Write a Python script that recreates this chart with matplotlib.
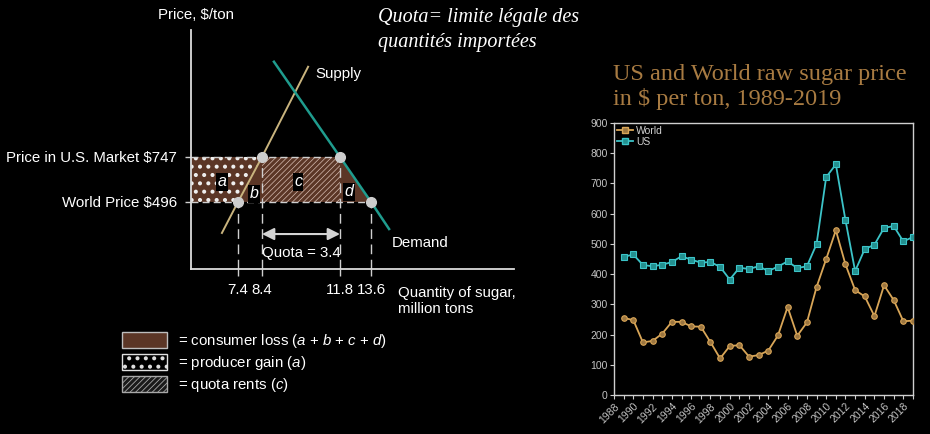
import numpy as np
import matplotlib
matplotlib.use("Agg")
import matplotlib.pyplot as plt
from matplotlib.patches import Rectangle
from matplotlib.lines import Line2D

plt.rcParams['font.family'] = ['Liberation Sans', 'DejaVu Sans']
plt.rcParams['mathtext.fontset'] = 'custom'
plt.rcParams['mathtext.rm'] = 'Liberation Sans'
plt.rcParams['mathtext.it'] = 'Liberation Sans:italic'

# ---- right chart: raw sugar prices, $ per ton
years = list(range(1989, 2020))
world = [255, 248, 174, 179, 203, 242, 242, 227, 226, 175, 121, 162, 165, 127, 132, 147,
         197, 291, 196, 240, 357, 450, 545, 432, 347, 326, 261, 363, 314, 244, 246]
us = [457, 465, 430, 426, 431, 440, 459, 448, 438, 440, 424, 382, 421, 417, 426, 410,
      425, 442, 420, 426, 499, 721, 763, 578, 410, 483, 497, 553, 559, 508, 523]
year_ticks = list(range(1988, 2020))

# ---- left diagram: import quota
q_marks = [7.4, 8.4, 11.8, 13.6]
q_labels = ['7.4', '8.4', '11.8', '13.6']
p_us = 747
p_world = 496
p_labels = ['World Price $496', 'Price in U.S. Market $747']
quota = 3.4
supply_q = [6.73, 7.4, 8.4, 10.41]
supply_p = [323, 496, 747, 1250]
demand_q = [8.92, 11.8, 13.6, 14.65]
demand_p = [1278, 747, 496, 345]

W, H = 930, 434
BROWN = '#5b3626'
GRAY = '#cfcfcf'
FS = 10.8


def fx(x):
    return x / W


def fy(y):
    return 1 - y / H


# textbook figure is not drawn to scale -> piecewise-linear quantity axis
q_knots = [0.0, 7.4, 8.4, 11.8, 13.6, 30.0]
x_knots = [60.4, 238, 262, 340, 371, 653.4]


def q_fwd(q):
    return np.interp(q, q_knots, x_knots)


def q_inv(x):
    return np.interp(x, x_knots, q_knots)


def hatch_lw(patch, lw):
    if hasattr(patch, 'set_hatch_linewidth'):
        patch.set_hatch_linewidth(lw)


fig = plt.figure(figsize=(9.3, 4.34), dpi=100, facecolor='black')

# ================= quota diagram =================
ax = fig.add_axes([fx(191), fy(269), fx(514 - 191), (269 - 30) / H])
ax.set_facecolor('black')
ax.set_xscale('function', functions=(q_fwd, q_inv))
x0, x1 = float(q_inv(191)), float(q_inv(514))
ax.set_xlim(x0, x1)
ax.set_ylim(122, 1455)

# areas
with plt.rc_context({'hatch.linewidth': 1.7}):
    pa = ax.fill([x0, q_marks[0], q_marks[1], x0], [p_world, p_world, p_us, p_us],
                 facecolor=BROWN, edgecolor='#f0f0f0', hatch='..', lw=0, zorder=1)[0]
    hatch_lw(pa, 1.7)
ax.fill([q_marks[0], q_marks[1], q_marks[1]], [p_world, p_world, p_us],
        facecolor=BROWN, lw=0, zorder=1)
with plt.rc_context({'hatch.linewidth': 0.5}):
    pc = ax.fill([q_marks[1], q_marks[2], q_marks[2], q_marks[1]], [p_world, p_world, p_us, p_us],
                 facecolor=BROWN, edgecolor='#d6bcb2', hatch='//////', lw=0, zorder=1)[0]
    hatch_lw(pc, 0.5)
ax.fill([q_marks[2], q_marks[3], q_marks[2]], [p_world, p_world, p_us],
        facecolor=BROWN, lw=0, zorder=1)

dash = (0, (5, 3))
ax.hlines(p_us, x0, q_marks[2], colors=GRAY, lw=1, linestyles=[dash], zorder=2)
ax.hlines(p_world, x0, q_marks[3], colors=GRAY, lw=1, linestyles=[dash], zorder=2)
ax.vlines([q_marks[0], q_marks[3]], 122, p_world, colors=GRAY, lw=1, linestyles=[(0, (7, 4))], zorder=2)
ax.vlines([q_marks[1], q_marks[2]], 122, p_us, colors=GRAY, lw=1, linestyles=[(0, (7, 4))], zorder=2)

ax.plot(supply_q, supply_p, color='#c9b47e', lw=1.4, zorder=3)
ax.plot(demand_q, demand_p, color='#1f9c8e', lw=1.8, zorder=3)
ax.plot(q_marks, [p_world, p_us, p_us, p_world], 'o', ms=7, color='#cdcdcd', zorder=4)

for lab, q, p in [('a', 6.73, 608), ('b', 8.07, 541), ('c', 9.97, 608), ('d', 12.32, 552)]:
    ax.text(q, p, lab, color='white', fontsize=11.5, style='italic', ha='center', va='center',
            bbox=dict(facecolor='black', edgecolor='none', pad=1.0), zorder=5)

ax.annotate('', xy=(q_marks[2], 317), xytext=(q_marks[1], 317),
            arrowprops=dict(arrowstyle='<|-|>', color='#d4d4d4', lw=1.5,
                            mutation_scale=18, shrinkA=0, shrinkB=0), zorder=5)
ax.text(10.1, 211, 'Quota = %.1f' % quota, color='white', fontsize=FS, ha='center', va='center')

ax.annotate('Supply', xy=(supply_q[-1], supply_p[-1]), xytext=(5, -5), textcoords='offset points',
            color='white', fontsize=FS, ha='left', va='center')
ax.annotate('Demand', xy=(demand_q[-1], demand_p[-1]), xytext=(2, -10), textcoords='offset points',
            color='white', fontsize=FS, ha='left', va='center')

for s in ['top', 'right']:
    ax.spines[s].set_visible(False)
for s in ['left', 'bottom']:
    ax.spines[s].set_color('#dcdcdc')
    ax.spines[s].set_linewidth(1.3)
ax.set_xticks(q_marks, q_labels)
ax.set_xticks([], minor=True)
ax.set_yticks([p_world, p_us], p_labels)
ax.set_yticks([], minor=True)
ax.tick_params(axis='x', colors=GRAY, labelcolor='white', length=5, width=1, pad=5, labelsize=FS)
ax.tick_params(axis='y', colors=GRAY, labelcolor='white', length=4, width=1, pad=6, labelsize=FS)

fig.text(fx(196), fy(15), 'Price, $/ton', color='white', fontsize=FS, ha='center', va='center')
fig.text(fx(398), fy(301), 'Quantity of sugar,\nmillion tons', color='white', fontsize=FS,
         ha='left', va='center', linespacing=1.1)

# legend of areas
legend_rows = [
    (340, dict(facecolor=BROWN, edgecolor='#bdbdbd', hatch=None), 1.0,
     '= consumer loss ($a$ + $b$ + $c$ + $d$)'),
    (362, dict(facecolor='black', edgecolor='#e0e0e0', hatch='..'), 1.7,
     '= producer gain ($a$)'),
    (384, dict(facecolor='#1a1a1a', edgecolor='#a8a8a8', hatch='//////'), 0.6,
     '= quota rents ($c$)'),
]
for yc, style, hlw, txt in legend_rows:
    with plt.rc_context({'hatch.linewidth': hlw}):
        r = Rectangle((fx(122), fy(yc + 8)), fx(45), 16 / H, transform=fig.transFigure,
                      lw=1, **style)
        hatch_lw(r, hlw)
    fig.add_artist(r)
    fig.text(fx(178), fy(yc + 1), txt, color='white', fontsize=FS, ha='left', va='center')

# slide texts
fig.text(fx(378), fy(30), 'Quota= limite légale des\nquantités importées', color='white',
         fontsize=14.5, style='italic', family=['Liberation Serif', 'DejaVu Serif'],
         ha='left', va='center', linespacing=1.45)
fig.text(fx(613), fy(87), 'US and World raw sugar price\nin $ per ton, 1989-2019', color='#a87b42',
         fontsize=17.5, family=['Liberation Serif', 'DejaVu Serif'],
         ha='left', va='center', linespacing=1.2)

# ================= price chart =================
GOLD = '#d9a658'
CYAN = '#3cc4c8'
ax2 = fig.add_axes([fx(614), fy(395), fx(913 - 614), (395 - 123) / H])
ax2.set_facecolor('black')
ax2.plot(years, world, color=GOLD, lw=1.3, marker='o', ms=4, mfc='#9c7640', mec=GOLD, mew=0.8, zorder=3)
ax2.plot(years, us, color=CYAN, lw=1.3, marker='s', ms=4, mfc='#23908f', mec=CYAN, mew=0.8, zorder=3)
ax2.set_xlim(1988, 2019)
ax2.set_ylim(0, 900)
ax2.set_yticks(range(0, 901, 100))
ax2.set_xticks(year_ticks, [str(y) if y % 2 == 0 else '' for y in year_ticks])
for s in ax2.spines.values():
    s.set_color('#cfcfcf')
    s.set_linewidth(1)
ax2.tick_params(colors='#cfcfcf', labelcolor='#c4c4c4', labelsize=7.5, length=3, width=0.8, pad=1.5)
plt.setp(ax2.get_xticklabels(), rotation=45, ha='right', rotation_mode='anchor')

handles = [Line2D([], [], color=GOLD, marker='s', ms=4, mfc='#9c7640', mec=GOLD, lw=1.3),
           Line2D([], [], color=CYAN, marker='s', ms=4, mfc='#23908f', mec=CYAN, lw=1.3)]
ax2.legend(handles, ['World', 'US'], loc='upper left', frameon=False, fontsize=7.5,
           labelcolor='#d0d0d0', handlelength=1.5, handletextpad=0.3, labelspacing=0.05,
           borderaxespad=0.2, borderpad=0.1)

fig.savefig('out.png', dpi=100, facecolor='black')
